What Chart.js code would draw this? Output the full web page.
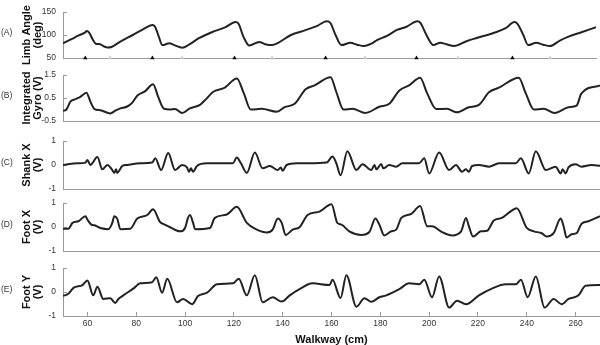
<!DOCTYPE html>
<html>
<head>
<meta charset="utf-8">
<script src="https://cdn.jsdelivr.net/npm/chart.js@4.4.1/dist/chart.umd.min.js"></script>
<style>
  body { margin: 0; background: #fff; }
  #wrap { position: relative; width: 600px; height: 345px; overflow: hidden; }
  .panel { position: absolute; left: 0; width: 600px; }
</style>
</head>
<body>
<div id="wrap">
  <div class="panel" style="top:0px;height:66px"><canvas id="chartA"></canvas></div>
  <div class="panel" style="top:63px;height:66px"><canvas id="chartB"></canvas></div>
  <div class="panel" style="top:129px;height:68px"><canvas id="chartC"></canvas></div>
  <div class="panel" style="top:191px;height:68px"><canvas id="chartD"></canvas></div>
  <div class="panel" style="top:256px;height:89px"><canvas id="chartE"></canvas></div>
</div>
<script>
// (A) limb angle, degrees
const limbCm = [50, 53.5, 56.5, 59, 59.8, 60.8, 62.5, 63.5, 65.3, 67, 68.5, 70, 73.5, 78.8, 83, 86.9, 88, 89.5, 91, 93.9,
  96, 99.2, 102, 106.1, 111.4, 117.1, 121.2, 122.4, 124.5, 126.9, 131, 133.5, 136.3, 138.8, 144.1, 149.8, 155, 158.8,
  160.4, 162.5, 164.9, 168.6, 171.4, 174.3, 177.6, 179.6, 183.7, 187.8, 191.8, 196.3, 197.6, 200, 202.9, 205.7, 208.2,
  211.4, 216.3, 220.4, 228.6, 232.7, 236.3, 237.6, 240, 242, 245.3, 248.2, 251, 255.1, 258.4, 264, 270];
const limbDeg = [82, 91, 99, 105, 108.5, 105, 88, 81, 80, 75, 73, 74, 85, 100, 112, 122, 118, 97, 78, 82,
  78, 72.5, 79, 93, 106, 117, 128, 125, 96, 77, 85, 80, 78, 83, 100, 110, 120, 130,
  126, 100, 78, 83, 79, 76, 82, 89, 98, 111, 118, 130, 126, 100, 78, 83, 80,
  76, 86, 93, 106, 115, 128, 124, 100, 78, 83, 79, 76, 88, 96, 106, 117];
// gait event markers on the (A) axis
const strikeCm = [59.2, 86.9, 120.8, 158.4, 195.9, 235.5];
const toeOffCm = [69.4, 99.2, 136.3, 174.7, 213.1, 251.0];

// (B) integrated gyro, V
const gyroCm = [50, 51.4, 53.1, 55.1, 57.1, 59.6, 61.2, 62.9, 65.3, 69.4, 71.4, 73.5, 76.3, 78.4, 80.4, 83.7, 86.9, 89,
  91.4, 93.9, 95.9, 98.8, 102, 106.1, 108.6, 111.4, 116.3, 121.2, 124.1, 126.9, 131.4, 137.6, 140.8, 144.9, 149.4,
  153.1, 159.6, 162, 164.9, 168.6, 173.9, 179.6, 183.7, 187.8, 191.8, 196.3, 199.2, 202.9, 207.3, 211.4, 216.3,
  220.4, 224.5, 228.6, 236.7, 239.6, 242.9, 246.9, 251.4, 257.1, 260.4, 262.4, 270];
const gyroV = [-0.06, 0.0, 0.35, 0.45, 0.55, 0.73, 0.35, 0.02, -0.03, -0.17, -0.05, 0.05, 0.13, 0.3, 0.6, 0.8, 1.1, 0.55,
  0.03, 0.0, 0.02, -0.15, 0.05, 0.2, 0.45, 0.76, 0.95, 1.35, 0.7, 0.0, 0.03, -0.1, 0.1, 0.25, 0.88,
  1.05, 1.4, 0.75, 0.0, 0.03, -0.15, 0.12, 0.25, 0.83, 1.05, 1.38, 0.7, 0.02, 0.03, -0.12, 0.1,
  0.2, 0.75, 0.95, 1.38, 0.7, 0.0, 0.03, -0.15, 0.1, 0.17, 0.7, 1.05];

// (C) shank X, V
const shankCm = [50, 55.9, 59.2, 60, 61.2, 64.1, 66.1, 68.2, 70.2, 71, 71.8, 72.2, 74.3, 76.3, 81.6, 86.5, 87.8, 90.2,
  93.1, 95.9, 98.8, 100.8, 101.6, 102.4, 103.3, 104.9, 109, 119.6, 121.2, 122.9, 125.3, 128.6, 131.8, 134.7, 138,
  139.2, 140, 141.6, 145.7, 151, 158, 160.4, 162, 163.7, 166.5, 170.2, 172.7, 176.3, 177.6, 178.4, 180.4, 181.2,
  183.7, 186.5, 189, 195.9, 198, 200, 204.1, 208.2, 211, 213.5, 215.1, 216.3, 217.6, 220.4, 224.5, 228.6, 235.5,
  237.6, 240.8, 243.7, 247.8, 251.8, 253.9, 254.7, 255.9, 257.1, 260, 262.4, 266.5, 270];
const shankV = [0, 0.07, 0.1, 0.21, 0, 0.33, -0.18, 0, -0.21, -0.33, -0.18, -0.33, -0.04, 0, 0.07, 0.1, 0.28, -0.21,
  0.5, -0.21, 0, -0.1, -0.28, -0.14, -0.28, -0.04, 0.07, 0.07, 0.31, 0.07, -0.33, 0.52, -0.14, -0.04, -0.21,
  -0.1, -0.24, 0, 0.07, 0.07, 0.1, 0.35, 0.07, -0.43, 0.57, -0.21, 0.03, -0.21, 0, -0.18, 0.04, -0.14,
  0, -0.07, 0.07, 0.07, 0.28, -0.35, 0.52, -0.21, 0, -0.28, -0.18, -0.28, -0.04, 0, -0.07, 0.07, 0.07,
  0.28, -0.35, 0.57, -0.21, -0.07, -0.35, -0.18, -0.35, -0.1, 0.03, -0.07, 0, -0.03];

// (D) foot X, V
const footXCm = [50, 52.2, 53.9, 56.3, 59.2, 60, 61.6, 62.9, 65.3, 68.6, 70.2, 71, 72.2, 73.5, 77.6, 80.4, 84.5, 86.9,
  89.8, 91, 93.9, 98, 100, 101.2, 102, 103.3, 104.1, 110.2, 112.2, 117.1, 121.2, 125.3, 129.4, 133.5, 135.9, 138,
  139.6, 141.2, 144.1, 146.9, 150.2, 155.1, 160, 162.4, 164.1, 167.3, 172.2, 175.5, 178, 179.6, 181.6, 184.5, 186.5,
  188.6, 192.7, 196.3, 199.2, 201.2, 205.3, 209.4, 213.1, 215.1, 216.3, 218, 221.2, 223.7, 226.5, 229.8, 232.7,
  235.9, 240, 242.9, 246.1, 248.2, 251, 253.9, 255.1, 256.3, 258.4, 260.4, 262.4, 265.3, 270];
const footXV = [-0.07, -0.07, 0.17, 0.24, 0.45, 0.31, 0.1, 0.07, -0.04, -0.09, 0.17, 0.45, 0.35, -0.09, -0.07, 0.35, 0.5, 0.74,
  0.2, 0.13, -0.01, -0.18, -0.04, 0.38, 0.5, 0.17, -0.09, -0.04, 0.38, 0.52, 0.84, 0.17, -0.11, -0.23, -0.11, 0.35,
  0.17, -0.33, -0.11, -0.01, 0.5, 0.64, 0.95, 0.17, 0.1, -0.18, -0.33, -0.21, 0.35, 0.1, -0.35, -0.18, -0.11,
  0.38, 0.55, 0.88, 0.03, 0.03, -0.21, -0.35, -0.18, 0.38, 0.03, -0.4, -0.18, -0.16, 0.27, 0.38, 0.6,
  0.78, -0.04, -0.18, -0.26, -0.4, -0.26, 0.35, 0.03, -0.44, -0.3, -0.26, 0.13, 0.24, 0.45];

// (E) foot Y, V
const footYCm = [50, 52.2, 54.3, 58, 60, 62.4, 64.1, 66.5, 69.4, 71.4, 72.7, 74.7, 78.8, 81.6, 86.5, 88.2, 90.6, 92.7,
  96.7, 99.2, 102.9, 105.3, 109, 113.1, 119.6, 122, 125.3, 128.6, 131.8, 135.9, 139.6, 142.9, 146.9, 152.2, 159.2,
  160.4, 163.7, 166.1, 170.2, 173.5, 176.3, 179.6, 182.4, 187.8, 191.8, 195.9, 198, 201.2, 204.1, 208.2, 211.4,
  215.1, 220.4, 225.7, 231.4, 235.5, 237.6, 240.4, 243.7, 247.3, 251, 254.3, 257.1, 261.2, 264.1, 270];
const footYV = [-0.17, -0.07, 0.17, 0.29, 0.48, -0.14, 0.22, -0.29, -0.26, -0.46, -0.29, -0.14, 0.14, 0.36, 0.41, 0.61, -0.03, 0.55,
  -0.43, -0.29, -0.51, -0.17, -0.03, 0.32, 0.36, 0.55, -0.14, 0.7, -0.43, -0.22, -0.4, -0.14, 0.12, 0.36, 0.29,
  0.51, -0.25, 0.7, -0.61, -0.26, -0.41, -0.22, -0.14, 0.12, 0.36, 0.32, 0.51, -0.22, 0.65, -0.65, -0.36,
  -0.51, -0.14, 0.14, 0.32, 0.32, 0.51, -0.22, 0.65, -0.65, -0.29, -0.51, -0.29, -0.14, 0.26, 0.29];

const xTicks = [60, 80, 100, 120, 140, 160, 180, 200, 220, 240, 260];
const angleTicks = [50, 100, 150];
const gyroTicks = [-0.5, 0.5, 1.5];
const voltTicks = [-1, 0, 1];

const FONT = '"Liberation Sans", Arial, Helvetica, sans-serif';
const AXIS = '#9a9a9a';
const LINE = '#222';
Chart.defaults.font.family = FONT;
Chart.defaults.animation = false;

// panel letter at the far left
const panelLetter = {
  id: 'panelLetter',
  afterDraw(chart, args, opts) {
    const { ctx, chartArea } = chart;
    ctx.save();
    ctx.font = '8.5px ' + FONT;
    ctx.fillStyle = '#333';
    ctx.textBaseline = 'middle';
    ctx.textAlign = 'left';
    ctx.fillText(opts.text, 1, (chartArea.top + chartArea.bottom) / 2 - 2);
    ctx.restore();
  }
};

function pts(xs, ys) {
  return xs.map((x, i) => ({ x: x, y: ys[i] }));
}

function makePanel(id, p) {
  const xScale = {
    type: 'linear', min: 50, max: 270,
    afterFit(s) { s.height = p.xHeight; s.paddingLeft = 0; s.paddingRight = 0; },
    border: { color: AXIS, width: 1 },
    grid: { display: false },
    ticks: { display: false }
  };
  if (p.bottom) {
    xScale.afterBuildTicks = s => { s.ticks = xTicks.map(v => ({ value: v })); };
    xScale.grid = { display: true, drawOnChartArea: false, tickLength: -4, color: AXIS };
    xScale.ticks = {
      display: true, padding: 7, color: '#333',
      font: { size: 8.5 }, maxRotation: 0, autoSkip: false
    };
    xScale.title = {
      display: true, text: 'Walkway (cm)', color: '#111',
      font: { size: 11, weight: 'bold', lineHeight: 1 }, padding: { top: 0, bottom: 0 }
    };
  }
  const datasets = [{
    data: pts(p.xs, p.ys),
    borderColor: LINE, borderWidth: 2, pointRadius: 0,
    cubicInterpolationMode: 'monotone', fill: false
  }];
  (p.extra || []).forEach(d => datasets.push(d));

  return new Chart(document.getElementById(id), {
    type: 'line',
    data: { datasets: datasets },
    options: {
      responsive: true,
      maintainAspectRatio: false,
      layout: { padding: { top: 12, left: 0, right: 0, bottom: 0 } },
      plugins: {
        legend: { display: false },
        tooltip: { enabled: false },
        panelLetter: { text: p.letter }
      },
      scales: {
        x: xScale,
        y: {
          min: p.min, max: p.max,
          afterFit(s) { s.width = 63; s.paddingTop = 0; s.paddingBottom = 0; },
          border: { color: AXIS, width: 1 },
          grid: { display: true, drawOnChartArea: false, tickLength: -4, color: AXIS },
          ticks: {
            stepSize: p.step, padding: 11, color: '#333', font: { size: 8.5 },
            callback: v => p.labels.includes(v) ? String(v) : ''
          },
          title: {
            display: true, text: p.title, color: '#111',
            font: { size: 11, weight: 'bold', lineHeight: 1 },
            padding: { top: 21, bottom: 0 }
          }
        }
      }
    },
    plugins: [panelLetter]
  });
}

makePanel('chartA', {
  xs: limbCm, ys: limbDeg, min: 50, max: 150, step: 50, labels: angleTicks,
  title: ['Limb Angle', '(deg)'], letter: '(A)', xHeight: 8,
  extra: [
    { type: 'scatter', data: strikeCm.map(x => ({ x: x, y: 50 })), pointStyle: 'triangle',
      pointRadius: 2.5, backgroundColor: '#000', borderWidth: 0, clip: false },
    { type: 'scatter', data: toeOffCm.map(x => ({ x: x, y: 50 })), pointStyle: 'triangle',
      pointRadius: 2.5, backgroundColor: '#c8c8c8', borderWidth: 0, clip: false }
  ]
});
makePanel('chartB', {
  xs: gyroCm, ys: gyroV, min: -0.5, max: 1.5, step: 0.5, labels: gyroTicks,
  title: ['Integrated', 'Gyro (V)'], letter: '(B)', xHeight: 8
});
makePanel('chartC', {
  xs: shankCm, ys: shankV, min: -1, max: 1, step: 0.5, labels: voltTicks,
  title: ['Shank X', '(V)'], letter: '(C)', xHeight: 8
});
makePanel('chartD', {
  xs: footXCm, ys: footXV, min: -1, max: 1, step: 0.5, labels: voltTicks,
  title: ['Foot X', '(V)'], letter: '(D)', xHeight: 8
});
makePanel('chartE', {
  xs: footYCm, ys: footYV, min: -1, max: 1, step: 0.5, labels: voltTicks,
  title: ['Foot Y', '(V)'], letter: '(E)', xHeight: 29, bottom: true
});
</script>
</body>
</html>
